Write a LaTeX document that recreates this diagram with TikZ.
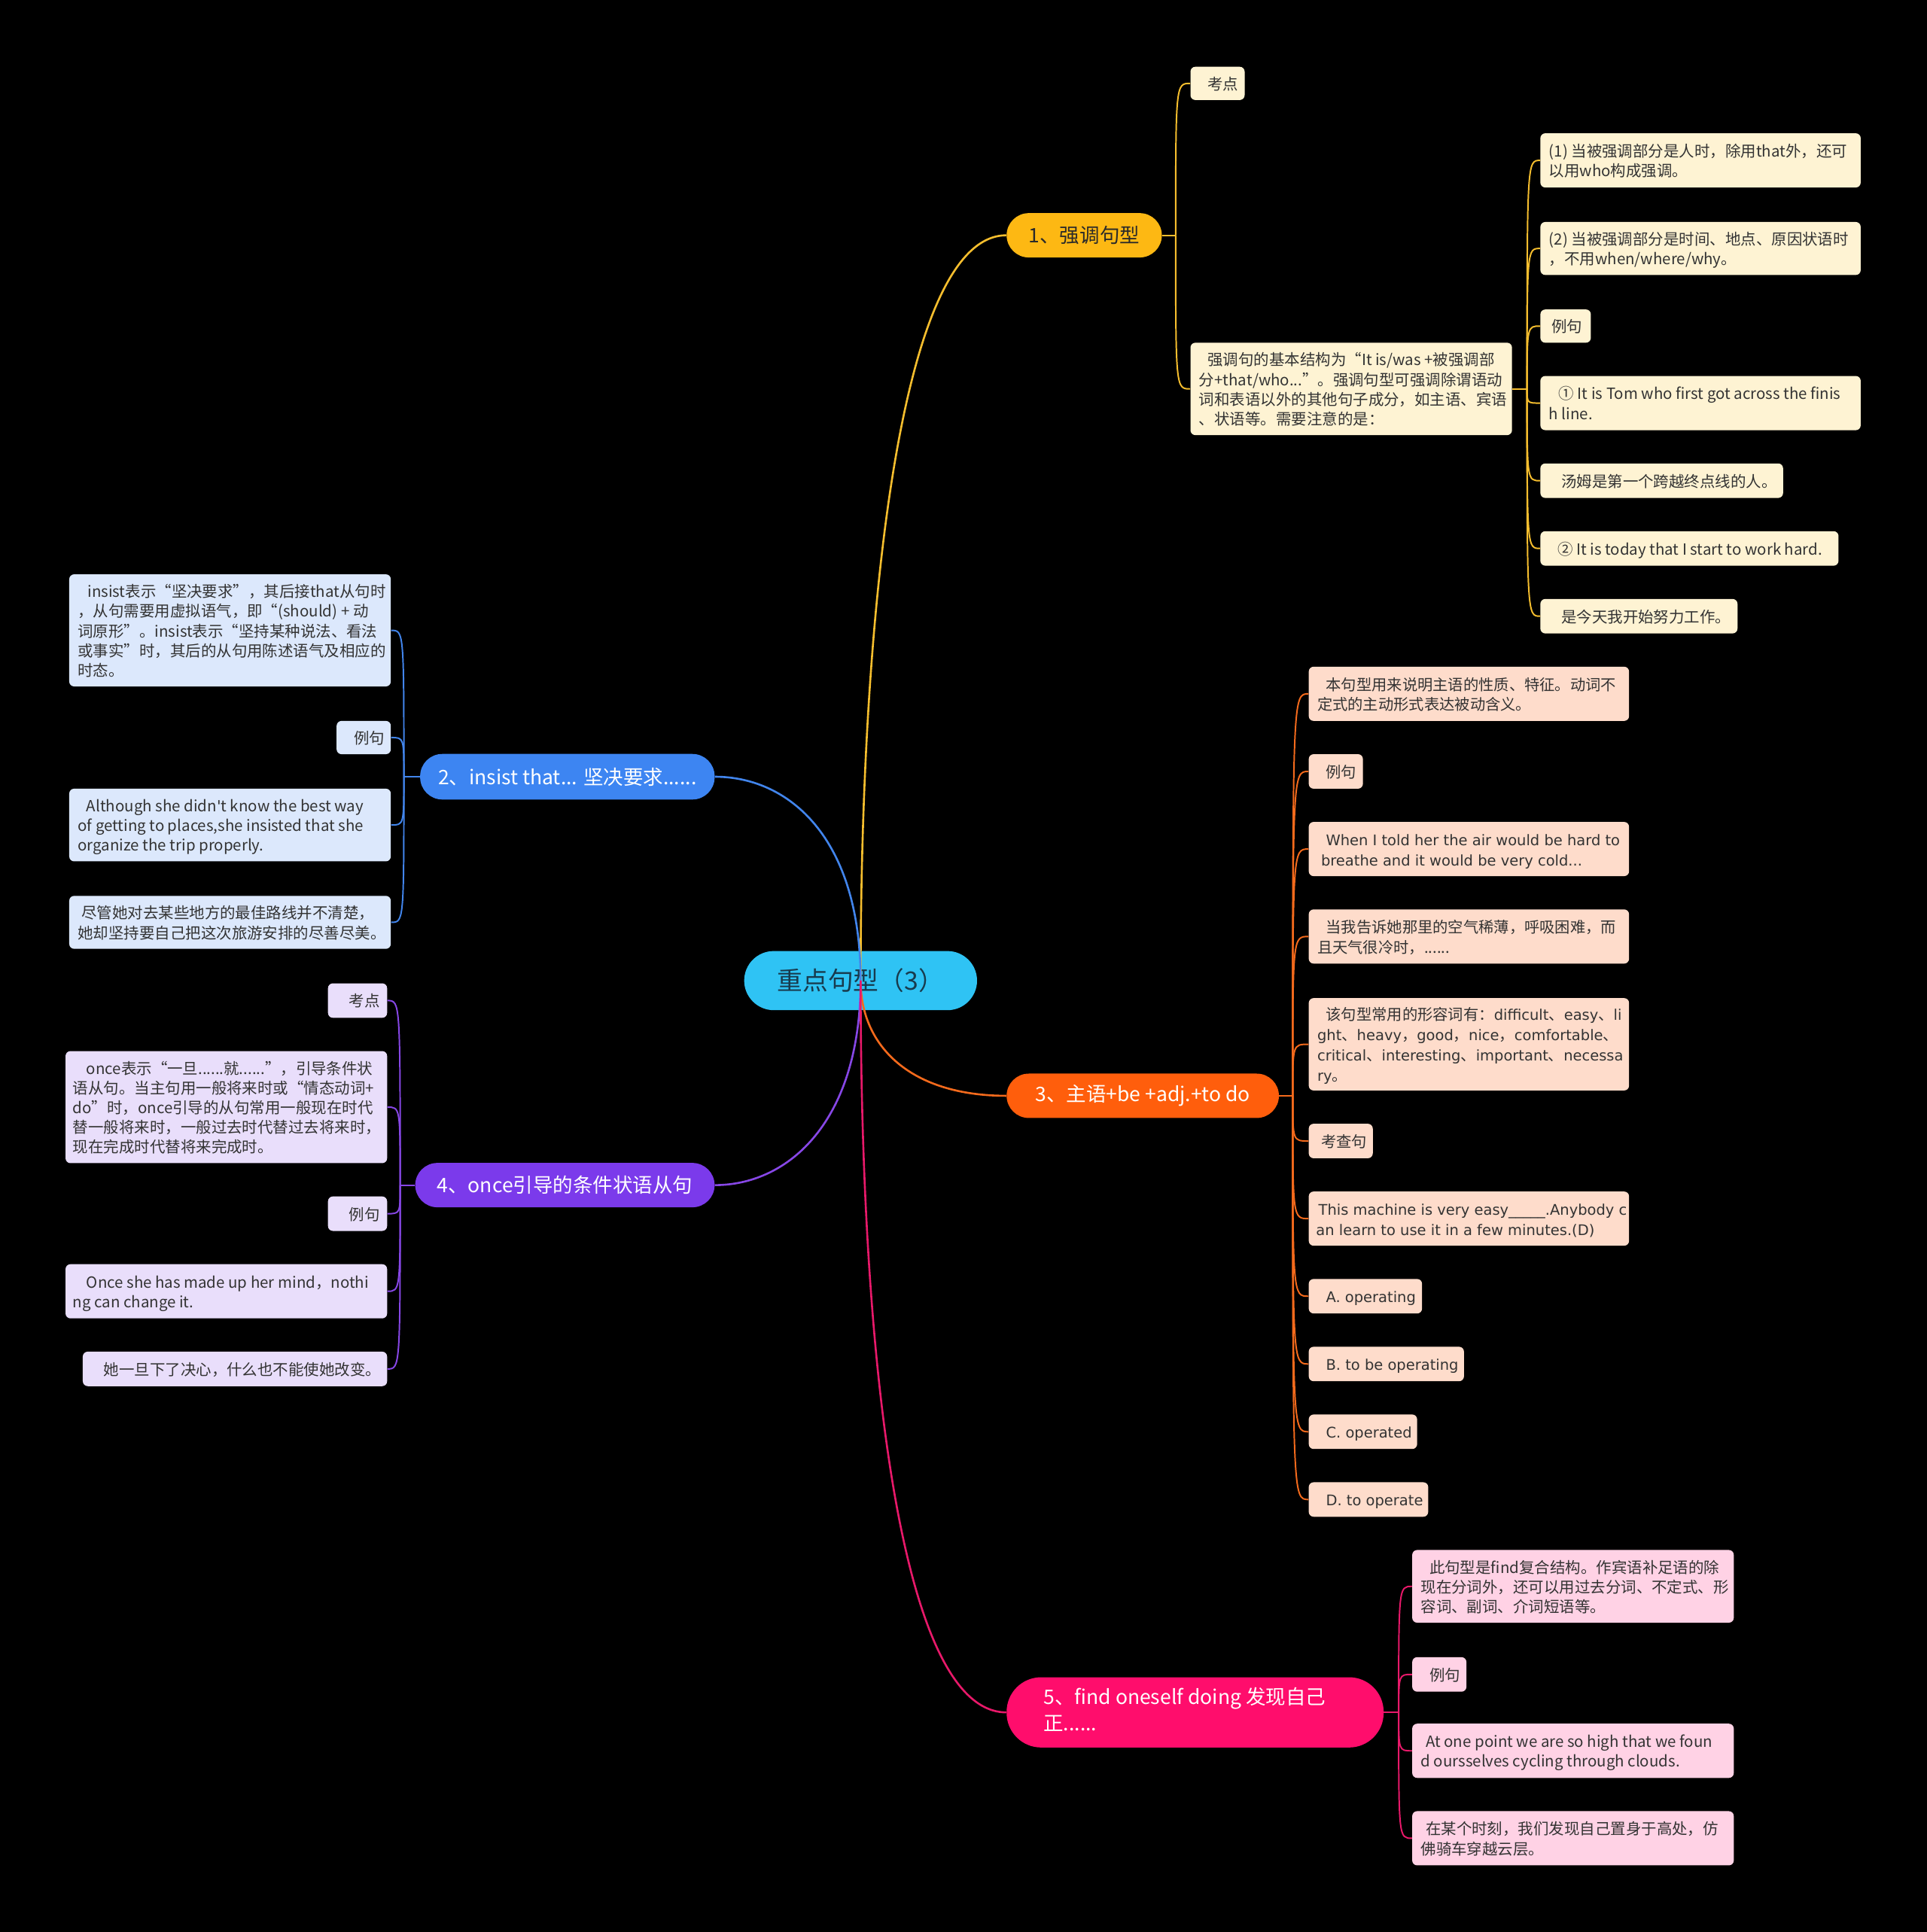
\documentclass[tikz,border=0pt]{standalone}
\usepackage{fontspec}
\setmainfont{Noto Sans CJK SC}
\newfontfamily\vf{DejaVu Sans}
\usetikzlibrary{calc}
\pgfdeclarelayer{bg}
\pgfsetlayers{bg,main}

\definecolor{rootc}{HTML}{2FC3F4}
\definecolor{roottx}{HTML}{183B4E}
\definecolor{yA}{HTML}{FDB813}
\definecolor{yL}{HTML}{F6BE2E}
\definecolor{yF}{HTML}{FEF3D3}
\definecolor{bA}{HTML}{3D85F2}
\definecolor{bL}{HTML}{4285EC}
\definecolor{bF}{HTML}{DCE8FC}
\definecolor{oA}{HTML}{FF5E0C}
\definecolor{oL}{HTML}{F46A1C}
\definecolor{oF}{HTML}{FEDCCB}
\definecolor{pA}{HTML}{7B3AEB}
\definecolor{pL}{HTML}{8747E6}
\definecolor{pF}{HTML}{E9DEFB}
\definecolor{mA}{HTML}{FF0D6C}
\definecolor{mL}{HTML}{E8196A}
\definecolor{mF}{HTML}{FFD2E5}
\definecolor{tx}{HTML}{333333}
\definecolor{tdark}{HTML}{2A2A2A}

\newcommand\mmtab[1]{\begin{tabular}{@{}l@{}}#1\end{tabular}}
\newcommand\mmbox[8]{\node[#1, minimum width=#5pt, minimum height=#6pt] (#2) at (#3,#4) {\makebox[#5pt][l]{\hspace*{#7pt}\raisebox{-2pt}[\height][\depth]{\mmtab{#8}}}};}
\newcommand\vt[1]{{\vf\fontsize{11.9}{16.4}\selectfont #1}}

\tikzset{
  leafbase/.style={anchor=north west, rounded corners=4pt, inner sep=0pt, text=tx, font=\fontsize{12.5}{16}\selectfont},
  lfy/.style={leafbase, fill=yF},
  lfb/.style={leafbase, fill=bF},
  lfo/.style={leafbase, fill=oF, font=\fontsize{12.4}{16.4}\selectfont},
  lfp/.style={leafbase, fill=pF},
  lfm/.style={leafbase, fill=mF},
  topic/.style={inner sep=0pt, font=\fontsize{16.2}{21}\selectfont, text=white},
  mainline/.style={line width=1.6pt},
  subline/.style={line width=1.2pt},
}

\begin{document}
\begin{tikzpicture}[x=1pt,y=-1pt]
\begin{pgfonlayer}{bg}
\fill[black] (0,0) rectangle (1564,1568.3);
\node[inner sep=0pt, fill=rootc, rounded corners=24pt, minimum width=189pt, minimum height=48pt, text=roottx, font=\fontsize{20.6}{24}\selectfont] (root) at (698.5,796) {重点句型（3）};
\end{pgfonlayer}
\useasboundingbox (0,0) rectangle (1564,1568.3);

% main topics
\node[topic, fill=yA, text=tdark, rounded corners=18pt, minimum width=126pt, minimum height=36pt] (b1) at (880,191) {1、强调句型};
\node[topic, fill=bA, rounded corners=18pt, minimum width=239pt, minimum height=37pt] (b2) at (460.5,630.5) {2、insist that... 坚决要求......};
\node[topic, fill=oA, rounded corners=18pt, minimum width=221pt, minimum height=36pt] (b3) at (927.5,889.5) {3、主语+be +adj.+to do};
\node[topic, fill=pA, rounded corners=18pt, minimum width=243pt, minimum height=36pt] (b4) at (458.5,962) {4、once引导的条件状语从句};
\node[topic, fill=mA, rounded corners=28pt, minimum width=306pt, minimum height=57pt] (b5) at (970,1390) {\makebox[306pt][l]{\hspace*{30pt}\begin{tabular}{@{}l@{}}5、find oneself doing 发现自己\\正......\end{tabular}}};

% branch 1
\mmbox{lfy}{kd1}{966}{54}{44}{27}{14}{考点}
\mmbox{lfy}{jg}{966}{278}{261}{75}{7}{\hspace*{7pt}强调句的基本结构为“It is/was +被强调部\\分+that/who...”。强调句型可强调除谓语动\\词和表语以外的其他句子成分，如主语、宾语\\、状语等。需要注意的是：}
\mmbox{lfy}{a1}{1250}{108}{260}{44}{7}{(1) 当被强调部分是人时，除用that外，还可\\以用who构成强调。}
\mmbox{lfy}{a2}{1250}{180}{260}{43}{7}{(2) 当被强调部分是时间、地点、原因状语时\\，不用when/where/why。}
\mmbox{lfy}{a3}{1250}{251}{41}{27}{9}{例句}
\mmbox{lfy}{a4}{1250}{305}{260}{44}{7}{\hspace*{8pt}① It is Tom who first got across the finis\\h line.}
\mmbox{lfy}{a5}{1250}{376}{197}{28}{17}{汤姆是第一个跨越终点线的人。}
\mmbox{lfy}{a6}{1250}{431}{242}{28}{14}{② It is today that I start to work hard.}
\mmbox{lfy}{a7}{1250}{486}{160}{28}{17}{是今天我开始努力工作。}

% branch 2
\mmbox{lfb}{bb1}{56}{466}{261}{91}{7}{\hspace*{8pt}insist表示“坚决要求”，其后接that从句时\\，从句需要用虚拟语气，即“(should) + 动\\词原形”。insist表示“坚持某种说法、看法\\或事实”时，其后的从句用陈述语气及相应的\\时态。}
\mmbox{lfb}{bb2}{273}{585}{44}{27}{14}{例句}
\mmbox{lfb}{bb3}{56}{640}{261}{59}{7}{\hspace*{7pt}Although she didn{\vf'}t know the best way\\of getting to places,she insisted that she\\organize the trip properly.}
\mmbox{lfb}{bb4}{56}{727}{261}{43}{7}{\hspace*{3pt}尽管她对去某些地方的最佳路线并不清楚，\\她却坚持要自己把这次旅游安排的尽善尽美。}

% branch 3
\mmbox{lfo}{c1}{1062}{541}{260}{44}{7}{\hspace*{7pt}本句型用来说明主语的性质、特征。动词不\\定式的主动形式表达被动含义。}
\mmbox{lfo}{c2}{1062}{612}{44}{28}{14}{例句}
\mmbox{lfo}{c3}{1062}{667}{260}{44}{10}{\hspace*{4pt}\vt{When I told her the air would be hard to}\\\vt{breathe and it would be very cold...}}
\mmbox{lfo}{c4}{1062}{738}{260}{44}{7}{\hspace*{7pt}当我告诉她那里的空气稀薄，呼吸困难，而\\且天气很冷时，......}
\mmbox{lfo}{c5}{1062}{810}{260}{75}{7}{\hspace*{7pt}该句型常用的形容词有：\vt{difficult}、\vt{easy}、\vt{li}\\\vt{ght}、\vt{heavy}，\vt{good}，\vt{nice}，\vt{comfortable}、\\\vt{critical}、\vt{interesting}、\vt{important}、\vt{necessa}\\\vt{ry}。}
\mmbox{lfo}{c6}{1062}{912}{52}{28}{10}{考查句}
\mmbox{lfo}{c7}{1062}{967}{260}{44}{6}{\hspace*{2pt}\vt{This machine is very easy\_\_\_\_\_.Anybody c}\\\vt{an learn to use it in a few minutes.(D)}}
\mmbox{lfo}{c8}{1062}{1038}{92}{28}{14}{\vt{A. operating}}
\mmbox{lfo}{c9}{1062}{1093}{126}{28}{14}{\vt{B. to be operating}}
\mmbox{lfo}{c10}{1062}{1148}{88}{28}{14}{\vt{C. operated}}
\mmbox{lfo}{c11}{1062}{1203}{97}{28}{14}{\vt{D. to operate}}

% branch 4
\mmbox{lfp}{d1}{266}{798}{48}{28}{17}{考点}
\mmbox{lfp}{d2}{53}{853}{261}{91}{6}{\hspace*{11pt}once表示“一旦......就......”，引导条件状\\语从句。当主句用一般将来时或“情态动词+\\do”时，once引导的从句常用一般现在时代\\替一般将来时，一般过去时代替过去将来时，\\现在完成时代替将来完成时。}
\mmbox{lfp}{d3}{266}{971}{48}{28}{17}{例句}
\mmbox{lfp}{d4}{53}{1026}{261}{44}{6}{\hspace*{11pt}Once she has made up her mind，nothi\\ng can change it.}
\mmbox{lfp}{d5}{67}{1097}{247}{28}{17}{她一旦下了决心，什么也不能使她改变。}

% branch 5
\mmbox{lfm}{e1}{1146}{1258}{261}{59}{7}{\hspace*{7pt}此句型是find复合结构。作宾语补足语的除\\现在分词外，还可以用过去分词、不定式、形\\容词、副词、介词短语等。}
\mmbox{lfm}{e2}{1146}{1345}{44}{28}{14}{例句}
\mmbox{lfm}{e3}{1146}{1399}{261}{44}{7}{\hspace*{4pt}At one point we are so high that we foun\\d oursselves cycling through clouds.}
\mmbox{lfm}{e4}{1146}{1470}{261}{44}{7}{\hspace*{4pt}在某个时刻，我们发现自己置身于高处，仿\\佛骑车穿越云层。}

% root to topics
\draw[mainline, yL] (root.center) .. controls ($(root.center)+(0,-296)$) and ($(b1.west)+(-87,0)$) .. (b1.west);
\draw[mainline, bL] (root.center) .. controls ($(root.center)+(0,-116)$) and ($(b2.east)+(60,0)$) .. (b2.east);
\draw[mainline, oL] (root.center) .. controls ($(root.center)+(0,54)$) and ($(b3.west)+(-77,0)$) .. (b3.west);
\draw[mainline, pL] (root.center) .. controls ($(root.center)+(0,114)$) and ($(b4.east)+(60,0)$) .. (b4.east);
\draw[mainline, mL] (root.center) .. controls ($(root.center)+(0,304)$) and ($(b5.west)+(-87,0)$) .. (b5.west);

% branch 1 connectors
\coordinate (s1) at ($(b1.east)+(11,0)$);
\draw[subline, yL] (b1.east) -- (s1);
\foreach \n in {kd1,jg} \draw[subline, yL] (s1) .. controls (s1 |- \n.west) .. (\n.west);
\coordinate (s1b) at ($(jg.east)+(12,0)$);
\draw[subline, yL] (jg.east) -- (s1b);
\foreach \n in {a1,a2,a3,a4,a5,a6,a7} \draw[subline, yL] (s1b) .. controls (s1b |- \n.west) .. (\n.west);

% branch 2 connectors
\coordinate (s2) at ($(b2.west)+(-13,0)$);
\draw[subline, bL] (b2.west) -- (s2);
\foreach \n in {bb1,bb2,bb3,bb4} \draw[subline, bL] (s2) .. controls (s2 |- \n.east) .. (\n.east);

% branch 3 connectors
\coordinate (s3) at ($(b3.east)+(11,0)$);
\draw[subline, oL] (b3.east) -- (s3);
\foreach \n in {c1,c2,c3,c4,c5,c6,c7,c8,c9,c10,c11} \draw[subline, oL] (s3) .. controls (s3 |- \n.west) .. (\n.west);

% branch 4 connectors
\coordinate (s4) at ($(b4.west)+(-12,0)$);
\draw[subline, pL] (b4.west) -- (s4);
\foreach \n in {d1,d2,d3,d4,d5} \draw[subline, pL] (s4) .. controls (s4 |- \n.east) .. (\n.east);

% branch 5 connectors
\coordinate (s5) at ($(b5.east)+(12,0)$);
\draw[subline, mL] (b5.east) -- (s5);
\foreach \n in {e1,e2,e3,e4} \draw[subline, mL] (s5) .. controls (s5 |- \n.west) .. (\n.west);
\end{tikzpicture}
\end{document}
